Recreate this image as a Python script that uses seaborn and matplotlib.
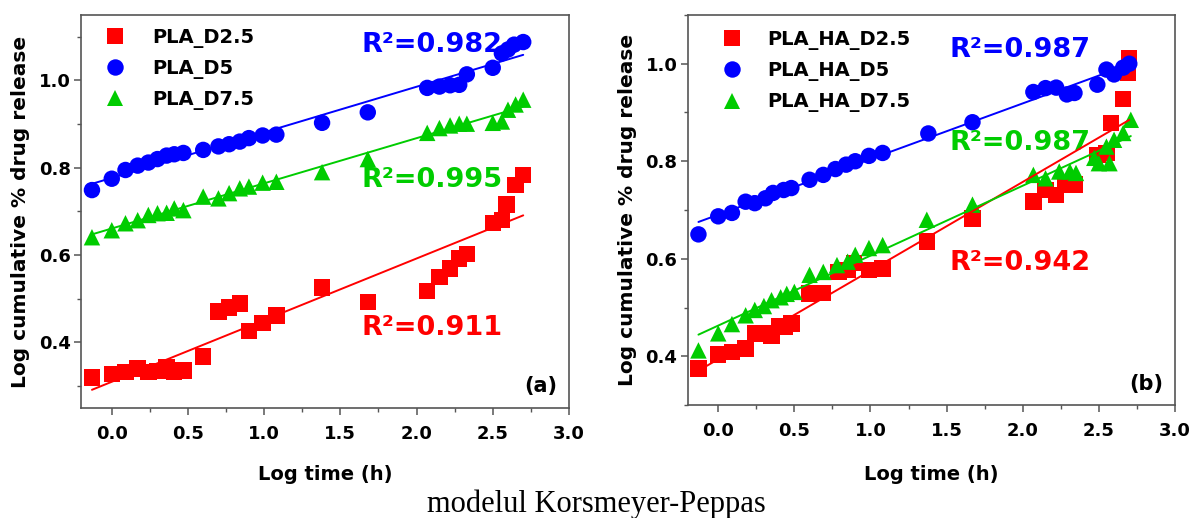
import numpy as np
import pandas as pd
import matplotlib
matplotlib.use("Agg")
import matplotlib.pyplot as plt
from matplotlib.ticker import MultipleLocator
import seaborn as sns

# ---------------- panel (a): PLA films ----------------
a_labels = ["PLA_D2.5", "PLA_D5", "PLA_D7.5"]

a_d25_x = [-0.13, 0.00, 0.09, 0.17, 0.24, 0.30, 0.36, 0.41, 0.47, 0.60, 0.70, 0.77, 0.84,
           0.90, 0.99, 1.08, 1.38, 1.68, 2.07, 2.15, 2.22, 2.28, 2.33, 2.50, 2.56, 2.59,
           2.65, 2.70]
a_d25_y = [0.320, 0.328, 0.332, 0.340, 0.333, 0.335, 0.343, 0.334, 0.336, 0.368, 0.471, 0.480,
           0.489, 0.426, 0.444, 0.462, 0.526, 0.493, 0.518, 0.550, 0.569, 0.592, 0.602, 0.674,
           0.680, 0.716, 0.761, 0.784]

a_d5_x = [-0.13, 0.00, 0.09, 0.17, 0.24, 0.30, 0.36, 0.41, 0.47, 0.60, 0.70, 0.77, 0.84,
          0.90, 0.99, 1.08, 1.38, 1.68, 2.07, 2.15, 2.22, 2.28, 2.33, 2.50, 2.56, 2.60,
          2.64, 2.70]
a_d5_y = [0.749, 0.775, 0.795, 0.805, 0.812, 0.820, 0.828, 0.831, 0.834, 0.841, 0.849, 0.854,
          0.860, 0.868, 0.874, 0.876, 0.903, 0.927, 0.983, 0.986, 0.989, 0.990, 1.014, 1.029,
          1.062, 1.071, 1.082, 1.088]

a_d75_x = [-0.13, 0.00, 0.09, 0.17, 0.24, 0.30, 0.36, 0.41, 0.47, 0.60, 0.70, 0.77, 0.84,
           0.90, 0.99, 1.08, 1.38, 1.68, 2.07, 2.15, 2.22, 2.28, 2.33, 2.50, 2.56, 2.60,
           2.65, 2.70]
a_d75_y = [0.641, 0.657, 0.673, 0.680, 0.692, 0.696, 0.697, 0.707, 0.703, 0.734, 0.730, 0.742,
           0.753, 0.757, 0.766, 0.768, 0.790, 0.820, 0.880, 0.891, 0.897, 0.901, 0.901, 0.903,
           0.906, 0.933, 0.945, 0.956]

a_r2 = ["0.911", "0.982", "0.995"]

# ---------------- panel (b): PLA/HA films ----------------
b_labels = ["PLA_HA_D2.5", "PLA_HA_D5", "PLA_HA_D7.5"]

b_d25_x = [-0.13, 0.00, 0.09, 0.18, 0.24, 0.30, 0.35, 0.40, 0.44, 0.48, 0.60, 0.69, 0.79,
           0.85, 0.89, 0.99, 1.08, 1.37, 1.67, 2.07, 2.15, 2.22, 2.28, 2.34, 2.49, 2.55,
           2.58, 2.66, 2.69, 2.70]
b_d25_y = [0.375, 0.404, 0.409, 0.416, 0.447, 0.448, 0.443, 0.462, 0.460, 0.467, 0.529, 0.530,
           0.573, 0.577, 0.591, 0.577, 0.580, 0.635, 0.683, 0.717, 0.741, 0.731, 0.752, 0.752,
           0.813, 0.817, 0.879, 0.928, 0.981, 1.012]

b_d5_x = [-0.13, 0.00, 0.09, 0.18, 0.24, 0.31, 0.36, 0.43, 0.48, 0.60, 0.69, 0.77, 0.84,
          0.90, 0.99, 1.08, 1.38, 1.67, 2.07, 2.15, 2.22, 2.29, 2.34, 2.49, 2.55, 2.60,
          2.66, 2.70]
b_d5_y = [0.650, 0.687, 0.694, 0.717, 0.714, 0.724, 0.735, 0.741, 0.745, 0.762, 0.772, 0.784,
          0.793, 0.800, 0.811, 0.817, 0.857, 0.880, 0.942, 0.950, 0.951, 0.937, 0.940, 0.957,
          0.988, 0.978, 0.992, 1.000]

b_d75_x = [-0.13, 0.00, 0.09, 0.18, 0.24, 0.30, 0.35, 0.41, 0.45, 0.50, 0.60, 0.69, 0.78,
           0.85, 0.90, 0.99, 1.08, 1.37, 1.67, 2.07, 2.15, 2.24, 2.31, 2.35, 2.47, 2.50,
           2.55, 2.57, 2.60, 2.66, 2.71]
b_d75_y = [0.412, 0.447, 0.466, 0.484, 0.495, 0.503, 0.515, 0.521, 0.528, 0.532, 0.567, 0.573,
           0.587, 0.594, 0.608, 0.622, 0.628, 0.680, 0.711, 0.772, 0.765, 0.779, 0.779, 0.776,
           0.807, 0.796, 0.830, 0.796, 0.844, 0.858, 0.885]

b_r2 = ["0.942", "0.987", "0.987"]

x_ticks = [0.0, 0.5, 1.0, 1.5, 2.0, 2.5, 3.0]
y_ticks = [0.4, 0.6, 0.8, 1.0]

colors = ["#ff0000", "#0000ff", "#00cc00"]
markers = ["s", "o", "^"]

sns.set_theme(style="ticks")
plt.rcParams["font.family"] = ["DejaVu Sans"]

fig = plt.figure(figsize=(11.92, 5.18), dpi=100)
ax_a = fig.add_axes([0.0682, 0.2124, 0.4091, 0.7587])
ax_b = fig.add_axes([0.5770, 0.2181, 0.4087, 0.7530])


def draw_panel(ax, labels, xs, ys, r2, r2_pos, tag, ylim, leg_anchor, leg_pad,
               ylab_x, xlab_y):
    frames = [pd.DataFrame({"x": x, "y": y, "series": lab})
              for lab, x, y in zip(labels, xs, ys)]
    df = pd.concat(frames, ignore_index=True)
    sns.scatterplot(data=df, x="x", y="y", hue="series", style="series",
                    hue_order=labels, style_order=labels,
                    palette=dict(zip(labels, colors)),
                    markers=dict(zip(labels, markers)),
                    s=140, linewidth=0, ax=ax, zorder=3)
    for x, y, c in zip(xs, ys, colors):
        sns.regplot(x=np.asarray(x), y=np.asarray(y), scatter=False, ci=None,
                    truncate=True, color=c, line_kws={"lw": 1.4, "zorder": 4}, ax=ax)

    # legend: markers + bold black names, no frame
    old = ax.get_legend()
    handles = old.legend_handles
    names = [t.get_text() for t in old.get_texts()]
    old.remove()
    ax.legend(handles, names, loc="upper left", bbox_to_anchor=leg_anchor,
              frameon=False, borderpad=0, borderaxespad=0, handlelength=1.0,
              handletextpad=leg_pad, labelspacing=0.58, labelcolor="black",
              prop={"weight": "bold", "size": 14})

    for txt, (px, py), c in zip(r2, r2_pos, colors):
        ax.text(px, py, "R\u00b2=" + txt, transform=ax.transAxes, color=c,
                fontsize=19.5, fontweight="bold", ha="left", va="center")
    ax.text(0.975, 0.055, tag, transform=ax.transAxes, fontsize=15,
            fontweight="bold", ha="right", va="center", color="black")

    ax.set_xlim(-0.2, 3.0)
    ax.set_ylim(*ylim)
    ax.set_xticks(x_ticks)
    ax.set_xticklabels([f"{v:.1f}" for v in x_ticks])
    ax.set_yticks(y_ticks)
    ax.set_yticklabels([f"{v:.1f}" for v in y_ticks])
    ax.xaxis.set_minor_locator(MultipleLocator(0.25))
    ax.yaxis.set_minor_locator(MultipleLocator(0.1))
    ax.tick_params(which="major", direction="out", length=5, width=1.1,
                   color="#555555", labelsize=13, labelcolor="black")
    ax.tick_params(axis="x", which="major", pad=7)
    ax.tick_params(axis="y", which="major", pad=2.5)
    ax.tick_params(which="minor", direction="out", length=3, width=1.0,
                   color="#555555")
    for lab in ax.get_xticklabels() + ax.get_yticklabels():
        lab.set_fontweight("bold")
    for sp in ax.spines.values():
        sp.set_visible(True)
        sp.set_color("#555555")
        sp.set_linewidth(1.2)

    ax.set_xlabel("Log time (h)", fontsize=14, fontweight="bold", color="black")
    ax.set_ylabel("Log cumulative % drug release", fontsize=14.5, fontweight="bold",
                  color="black")
    ax.xaxis.set_label_coords(0.5, xlab_y)
    ax.yaxis.set_label_coords(ylab_x, 0.5)
    ax.set_facecolor("white")


draw_panel(ax_a, a_labels, [a_d25_x, a_d5_x, a_d75_x], [a_d25_y, a_d5_y, a_d75_y],
           a_r2, [(0.575, 0.204), (0.575, 0.924), (0.575, 0.580)], "(a)",
           (0.25, 1.15), (0.049, 0.968), 1.4, -0.105, -0.145)

draw_panel(ax_b, b_labels, [b_d25_x, b_d5_x, b_d75_x], [b_d25_y, b_d5_y, b_d75_y],
           b_r2, [(0.538, 0.364), (0.538, 0.910), (0.538, 0.672)], "(b)",
           (0.30, 1.10), (0.070, 0.962), 1.35, -0.104, -0.155)

fig.text(0.5, 1 - 504 / 518, "modelul Korsmeyer-Peppas", ha="center", va="center",
         fontsize=22, family="Liberation Serif", color="black")

fig.savefig("out.png", dpi=100, facecolor="white")
